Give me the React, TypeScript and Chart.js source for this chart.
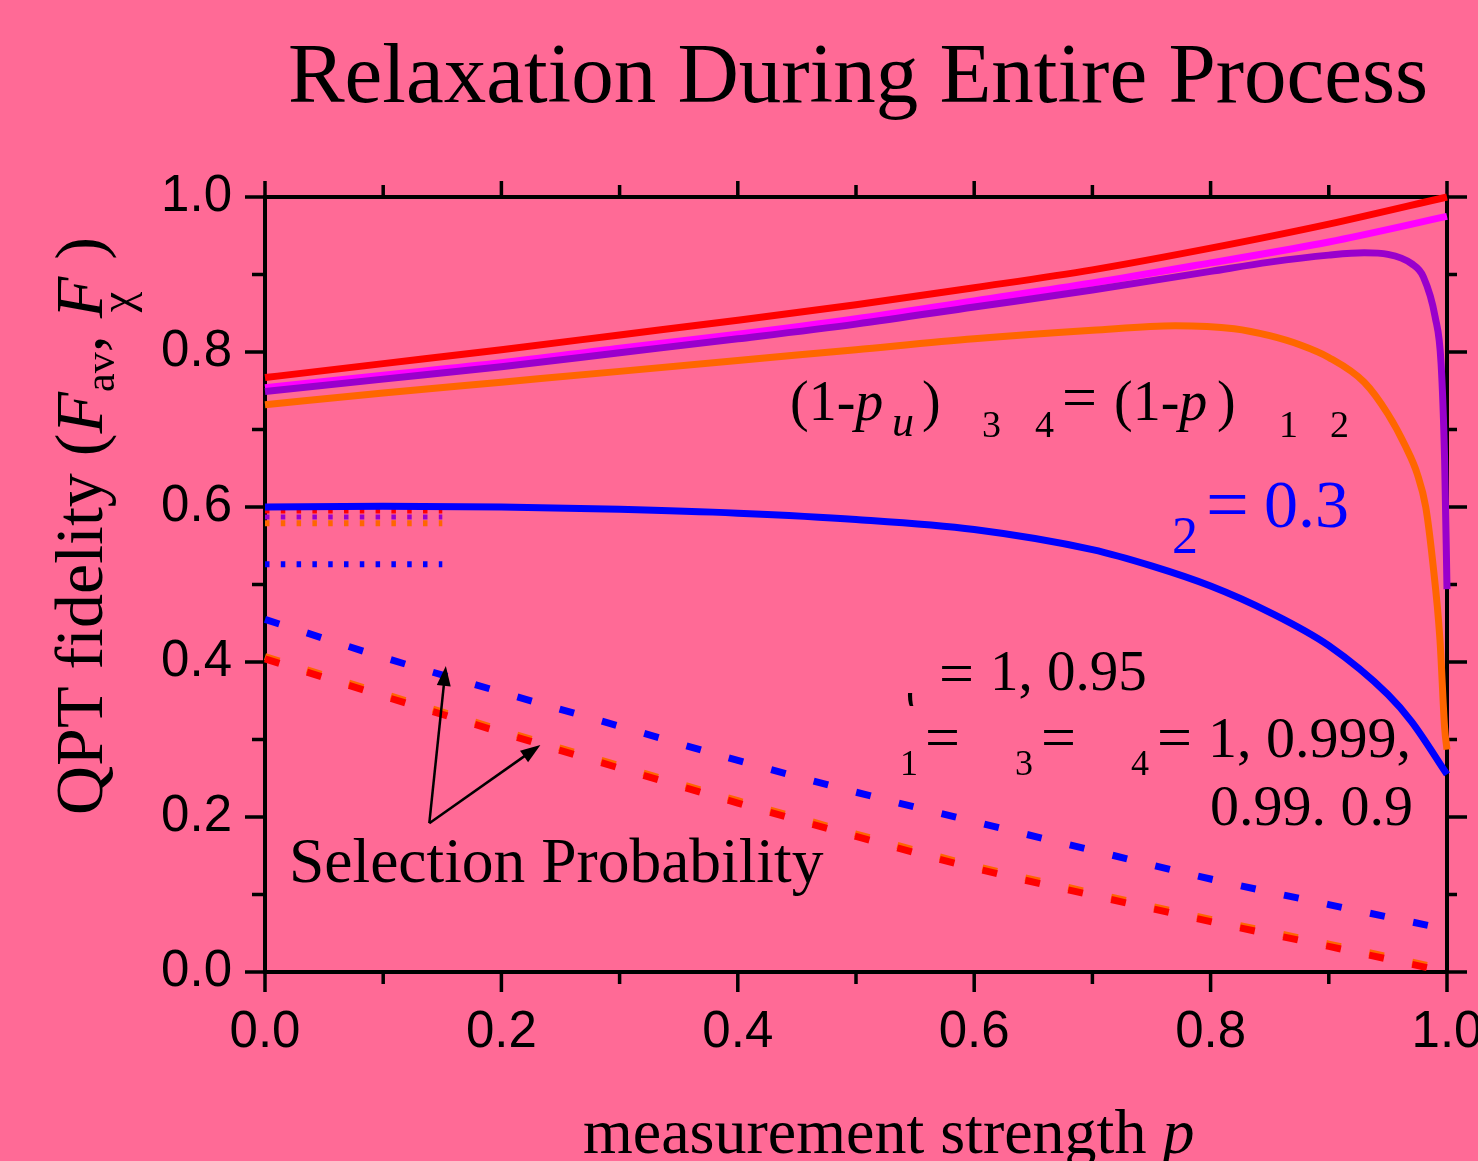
import React, { useEffect, useRef } from 'react';
import { Chart, registerables } from 'chart.js';

Chart.register(...registerables);

const W = 1478;
const H = 1161;
const BG = '#ff6a96';

// ---- data (x = measurement strength p, y = QPT fidelity) ----
const pMain = [0, 0.1, 0.2, 0.3, 0.4, 0.5, 0.6, 0.7, 0.8, 0.9, 1.0];
const redSolid = [0.767, 0.785, 0.803, 0.822, 0.841, 0.861, 0.883, 0.906, 0.934, 0.965, 1.0];
const magentaSolid = [0.754, 0.770, 0.786, 0.805, 0.823, 0.843, 0.866, 0.889, 0.915, 0.942, 0.975];

const pPurple = [0, 0.1, 0.2, 0.3, 0.4, 0.5, 0.6, 0.7, 0.8, 0.85, 0.9, 0.93, 0.95, 0.97, 0.98, 0.99, 0.995, 0.998, 1.0];
const purpleSolid = [0.749, 0.765, 0.781, 0.799, 0.817, 0.836, 0.858, 0.880, 0.904, 0.916, 0.925, 0.928, 0.926, 0.914, 0.897, 0.845, 0.785, 0.66, 0.494];

const pOrange = [0, 0.1, 0.2, 0.3, 0.4, 0.5, 0.6, 0.7, 0.77, 0.82, 0.85, 0.876, 0.9, 0.93, 0.95, 0.965, 0.975, 0.982, 0.988, 0.994, 0.998, 1.0];
const orangeSolid = [0.732, 0.747, 0.761, 0.775, 0.789, 0.803, 0.817, 0.828, 0.834, 0.830, 0.821, 0.809, 0.793, 0.761, 0.720, 0.678, 0.642, 0.600, 0.528, 0.43, 0.315, 0.287];

const pBlue = [0, 0.1, 0.2, 0.3, 0.4, 0.5, 0.6, 0.7, 0.75, 0.8, 0.85, 0.9, 0.95, 0.97, 1.0];
const blueSolid = [0.600, 0.601, 0.600, 0.597, 0.592, 0.584, 0.571, 0.545, 0.524, 0.498, 0.464, 0.421, 0.358, 0.323, 0.255];

// selection probability (dashed)
const pSel = [0, 0.1, 0.2, 0.3, 0.4, 0.5, 0.6, 0.7, 0.8, 0.9, 1.0];
const blueSel = [0.455, 0.406, 0.361, 0.317, 0.273, 0.232, 0.194, 0.157, 0.120, 0.087, 0.055];
const redSel = [0.404, 0.356, 0.309, 0.263, 0.218, 0.175, 0.134, 0.099, 0.065, 0.033, 0.0];
const orangeSel = [0.407, 0.359, 0.312, 0.266, 0.221, 0.178, 0.137, 0.102, 0.068, 0.036, 0.003];

// short dotted reference levels
const pDot = [0, 0.15];
const redDot = [0.595, 0.595];
const purpleDot = [0.587, 0.587];
const orangeDot = [0.579, 0.579];
const blueDot = [0.526, 0.526];

// axis ticks
const xTickValues = [0, 0.1, 0.2, 0.3, 0.4, 0.5, 0.6, 0.7, 0.8, 0.9, 1.0];
const yTickValues = [0, 0.1, 0.2, 0.3, 0.4, 0.5, 0.6, 0.7, 0.8, 0.9, 1.0];

// arrows (data coordinates): tail -> tips
const arrowTail = { x: 0.139, y: 0.192 };
const arrowTips = [{ x: 0.153, y: 0.395 }, { x: 0.233, y: 0.293 }];

const RED = '#ff0000';
const MAGENTA = '#ff00ff';
const PURPLE = '#9900cc';
const ORANGE = '#ff6600';
const BLUE = '#0000ff';

const serif = (size: number, style = '') => `${style} ${size}px "Liberation Serif"`.trim();

function pts(xs: number[], ys: number[]) {
  return xs.map((x, i) => ({ x, y: ys[i] }));
}

function line(label: string, xs: number[], ys: number[], color: string, extra: any = {}) {
  return {
    label,
    data: pts(xs, ys),
    borderColor: color,
    backgroundColor: color,
    borderWidth: 7,
    pointRadius: 0,
    fill: false,
    cubicInterpolationMode: 'monotone',
    borderCapStyle: 'butt',
    borderJoinStyle: 'round',
    clip: 8,
    ...extra,
  };
}

const bgPlugin = {
  id: 'bg',
  beforeDraw(chart: any) {
    const c = chart.ctx;
    c.save();
    c.fillStyle = BG;
    c.fillRect(0, 0, chart.width, chart.height);
    c.restore();
  },
};

const tickPlugin = {
  id: 'tickmarks',
  beforeDatasetsDraw(chart: any) {
    const c = chart.ctx;
    const a = chart.chartArea;
    const sx = chart.scales.x;
    const sy = chart.scales.y;
    c.save();
    c.strokeStyle = '#000';
    c.lineWidth = 3.5;
    c.lineCap = 'butt';
    c.beginPath();
    xTickValues.forEach((v, i) => {
      const major = i % 2 === 0;
      const x = sx.getPixelForValue(v);
      c.moveTo(x, a.bottom);
      c.lineTo(x, a.bottom + (major ? 20 : 12));
      c.moveTo(x, a.top);
      c.lineTo(x, a.top - (major ? 16 : 12));
    });
    yTickValues.forEach((v, i) => {
      const major = i % 2 === 0;
      const y = sy.getPixelForValue(v);
      c.moveTo(a.left, y);
      c.lineTo(a.left - (major ? 20 : 13), y);
      c.moveTo(a.right, y);
      c.lineTo(a.right + (major ? 20 : 10), y);
    });
    c.stroke();
    c.restore();
  },
};

function drawArrow(c: CanvasRenderingContext2D, x0: number, y0: number, x1: number, y1: number) {
  const headLen = 20;
  const headW = 7;
  const ang = Math.atan2(y1 - y0, x1 - x0);
  const cos = Math.cos(ang);
  const sin = Math.sin(ang);
  c.beginPath();
  c.moveTo(x0, y0);
  c.lineTo(x1 - headLen * 0.8 * cos, y1 - headLen * 0.8 * sin);
  c.stroke();
  c.beginPath();
  c.moveTo(x1, y1);
  c.lineTo(x1 - headLen * cos + headW * sin, y1 - headLen * sin - headW * cos);
  c.lineTo(x1 - headLen * cos - headW * sin, y1 - headLen * sin + headW * cos);
  c.closePath();
  c.fill();
}

const textPlugin = {
  id: 'texts',
  afterDraw(chart: any) {
    const c: CanvasRenderingContext2D = chart.ctx;
    const sx = chart.scales.x;
    const sy = chart.scales.y;
    c.save();
    c.fillStyle = '#000';
    c.textBaseline = 'alphabetic';

    // title
    c.textAlign = 'center';
    c.font = serif(85);
    c.fillText('Relaxation During Entire Process', 858, 102);

    c.textAlign = 'left';
    // x-axis title
    c.font = serif(64);
    c.fillText('measurement strength ', 583, 1153);
    const w = c.measureText('measurement strength ').width;
    c.font = serif(64, 'italic');
    c.fillText('p', 583 + w, 1153);

    // y-axis title (rotated)
    c.save();
    c.translate(102, 815);
    c.rotate(-Math.PI / 2);
    let x = 0;
    const seg = (t: string, font: string, dy = 0) => {
      c.font = font;
      c.fillText(t, x, dy);
      x += c.measureText(t).width;
    };
    seg('QPT fidelity (', serif(68));
    seg('F', serif(68, 'italic'));
    seg('av', serif(42), 12);
    seg(', ', serif(68));
    const f2 = x;
    seg('F', serif(68, 'italic'));
    seg(' )', serif(68));
    c.font = serif(46);
    c.fillText('χ', f2 + 6, 30);
    c.restore();

    // annotation: (1-p_u) 3 4 = (1-p) 1 2
    const runs = (startX: number, baseY: number, parts: [string, string][]) => {
      let xx = startX;
      parts.forEach(([t, f]) => {
        c.font = f;
        c.fillText(t, xx, baseY);
        xx += c.measureText(t).width;
      });
    };
    runs(790, 420, [['(1-', serif(56)], ['p', serif(56, 'italic')]]);
    c.font = serif(44, 'italic');
    c.fillText('u', 892, 436);
    c.font = serif(56);
    c.fillText(')', 922, 420);
    c.font = serif(38);
    c.fillText('3', 982, 437);
    c.fillText('4', 1035, 437);
    c.font = serif(62);
    c.fillText('=', 1062, 418);
    runs(1114, 420, [['(1-', serif(56)], ['p', serif(56, 'italic')]]);
    c.font = serif(56);
    c.fillText(')', 1217, 420);
    c.font = serif(38);
    c.fillText('1', 1279, 437);
    c.fillText('2', 1330, 437);

    // blue: 2 = 0.3
    c.fillStyle = BLUE;
    c.font = serif(52);
    c.fillText('2', 1172, 553);
    c.font = serif(76);
    c.fillText('=', 1206, 530);
    c.font = serif(68);
    c.fillText('0.3', 1264, 527);
    c.fillStyle = '#000';

    // = 1, 0.95
    c.save();
    c.beginPath();
    c.rect(902, 693, 14, 13);
    c.clip();
    c.font = serif(44);
    c.fillText('(', 906, 706);
    c.restore();
    c.font = serif(62);
    c.fillText('=', 939, 694);
    c.font = serif(57);
    c.fillText('1, 0.95', 990, 690);

    // 1 = 3 = 4 = 1, 0.999, 0.99. 0.9
    c.font = serif(36);
    c.fillText('1', 900, 775);
    c.fillText('3', 1015, 775);
    c.fillText('4', 1131, 775);
    c.font = serif(62);
    c.fillText('=', 925, 758);
    c.fillText('=', 1041, 758);
    c.fillText('=', 1157, 758);
    c.font = serif(58);
    c.fillText('1, 0.999,', 1208, 757);
    c.fillText('0.99. 0.9', 1210, 825);

    // Selection Probability + arrows
    c.font = serif(63.5);
    c.fillText('Selection Probability', 289, 882);
    c.strokeStyle = '#000';
    c.lineWidth = 2.5;
    const tx = sx.getPixelForValue(arrowTail.x);
    const ty = sy.getPixelForValue(arrowTail.y);
    arrowTips.forEach((tp) => {
      drawArrow(c, tx, ty, sx.getPixelForValue(tp.x), sy.getPixelForValue(tp.y));
    });

    c.restore();
  },
};

export default function App() {
  const ref = useRef<HTMLCanvasElement>(null);

  useEffect(() => {
    document.body.style.margin = '0';
    document.body.style.background = BG;
    document.body.style.overflow = 'hidden';
    const canvas = ref.current;
    if (!canvas) return;

    const dash = [15, 29];
    const dot = [4.5, 11.3];

    const datasets: any[] = [
      line('blue', pBlue, blueSolid, BLUE),
      line('red', pMain, redSolid, RED),
      line('purple', pPurple, purpleSolid, PURPLE),
      line('magenta', pMain, magentaSolid, MAGENTA),
      line('orange', pOrange, orangeSolid, ORANGE),
      line('red dotted', pDot, redDot, RED, { borderDash: dot, borderWidth: 5 }),
      line('purple dotted', pDot, purpleDot, PURPLE, { borderDash: dot, borderWidth: 5 }),
      line('orange dotted', pDot, orangeDot, ORANGE, { borderDash: dot, borderWidth: 6 }),
      line('blue dotted', pDot, blueDot, BLUE, { borderDash: dot, borderWidth: 6 }),
      line('blue selection', pSel, blueSel, BLUE, { borderDash: dash }),
      line('red selection', pSel, redSel, RED, { borderDash: dash }),
      line('orange selection', pSel, orangeSel, ORANGE, { borderDash: dash }),
    ];

    const tickFont = { family: '"Liberation Sans"', size: 51 };

    const chart = new Chart(canvas, {
      type: 'line',
      data: { datasets },
      options: {
        responsive: false,
        animation: false,
        devicePixelRatio: 1,
        layout: { padding: 0 },
        plugins: {
          legend: { display: false },
          tooltip: { enabled: false },
          title: { display: false },
        },
        scales: {
          x: {
            type: 'linear',
            position: 'bottom',
            min: 0,
            max: 1,
            grid: { display: false, drawTicks: false, tickLength: 0 },
            border: { display: true, color: '#000', width: 4 },
            ticks: {
              stepSize: 0.2,
              color: '#000',
              font: tickFont,
              padding: 30,
              maxRotation: 0,
              autoSkip: false,
              callback: (v: any) => Number(v).toFixed(1),
            },
            afterFit: (s: any) => {
              s.height = H - 972;
              s.paddingLeft = 0;
              s.paddingRight = 0;
            },
          },
          x2: {
            type: 'linear',
            position: 'top',
            min: 0,
            max: 1,
            grid: { display: false, drawTicks: false },
            border: { display: true, color: '#000', width: 4 },
            ticks: { display: false },
            afterFit: (s: any) => {
              s.height = 197;
              s.paddingLeft = 0;
              s.paddingRight = 0;
            },
          },
          y: {
            type: 'linear',
            position: 'left',
            min: 0,
            max: 1,
            grid: { display: false, drawTicks: false, tickLength: 0 },
            border: { display: true, color: '#000', width: 4 },
            ticks: {
              stepSize: 0.2,
              color: '#000',
              font: tickFont,
              padding: 33,
              autoSkip: false,
              callback: (v: any) => Number(v).toFixed(1),
            },
            afterFit: (s: any) => {
              s.width = 265;
              s.paddingTop = 0;
              s.paddingBottom = 0;
            },
          },
          y2: {
            type: 'linear',
            position: 'right',
            min: 0,
            max: 1,
            grid: { display: false, drawTicks: false },
            border: { display: true, color: '#000', width: 4 },
            ticks: { display: false },
            afterFit: (s: any) => {
              s.width = W - 1447;
              s.paddingTop = 0;
              s.paddingBottom = 0;
            },
          },
        },
      } as any,
      plugins: [bgPlugin, tickPlugin, textPlugin],
    });

    return () => chart.destroy();
  }, []);

  return (
    <div style={{ position: 'absolute', left: 0, top: 0, width: W, height: H, background: BG, overflow: 'hidden' }}>
      <canvas ref={ref} width={W} height={H} style={{ width: W, height: H, display: 'block' }} />
    </div>
  );
}
